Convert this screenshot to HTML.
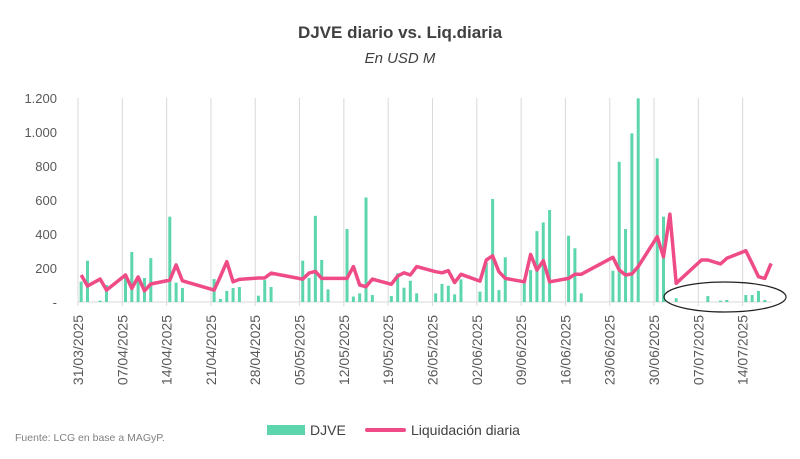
<!DOCTYPE html>
<html><head><meta charset="utf-8"><style>
body{margin:0;background:#fff;font-family:"Liberation Sans",sans-serif;}
#wrap{position:relative;width:800px;height:459px;overflow:hidden;background:#fff;}
</style></head><body>
<div id="wrap">
<svg id="chart" width="800" height="459"></svg>
</div>
<script>
const barDays = [0,1,3,4,7,8,9,10,11,14,15,16,21,22,23,24,25,28,29,30,35,36,37,38,39,42,43,44,45,46,49,50,51,52,53,56,57,58,59,60,63,64,65,66,67,70,71,72,73,74,77,78,79,84,85,86,87,88,91,92,94,99,101,102,105,106,107,108];
const djveValues = [120,243,8,100,159,294,149,141,258,502,114,82,135,18,65,82,88,37,129,88,243,141,507,247,74,429,32,51,615,41,35,169,84,125,51,51,106,96,45,133,61,230,606,70,263,110,188,417,468,541,390,316,51,184,825,429,992,1198,845,502,22,35,8,12,41,41,65,12];
const lineDays = [0,1,3,4,7,8,9,10,11,14,15,16,21,22,23,24,25,28,29,30,35,36,37,38,39,42,43,44,45,46,49,50,51,52,53,56,57,58,59,60,63,64,65,66,67,70,71,72,73,74,77,78,79,84,85,86,87,88,91,92,93,94,98,99,101,102,105,106,107,108,109];
const liqValues = [159,94,135,70,159,80,147,66,106,129,218,125,70,150,237,119,133,141,141,170,135,170,180,139,139,139,208,100,90,135,104,153,172,159,208,178,172,184,114,163,123,247,272,178,139,119,280,188,243,119,139,163,163,263,188,159,165,208,384,266,517,110,247,247,224,257,302,227,149,139,227];
const yTicks = [0,200,400,600,800,1000,1200];
const yTickLabels = ["-","200","400","600","800","1.000","1.200"];
const dateLabels = ["31/03/2025","07/04/2025","14/04/2025","21/04/2025","28/04/2025","05/05/2025","12/05/2025","19/05/2025","26/05/2025","02/06/2025","09/06/2025","16/06/2025","23/06/2025","30/06/2025","07/07/2025","14/07/2025"];

const NS="http://www.w3.org/2000/svg";
const svg=document.getElementById('chart');
const X0=78, DAY=6.33, Y0=302, YTOP=98, YMAX=1200;
const xDay=d=>X0+DAY*(d+0.5);
const xTick=i=>X0+DAY*7*i;
const yv=v=>Y0-(v/YMAX)*(Y0-YTOP);
function mk(tag,attrs,parent){const e=document.createElementNS(NS,tag);for(const k in attrs)e.setAttribute(k,attrs[k]);(parent||svg).appendChild(e);return e;}

// title
let t=mk('text',{x:400,y:38,'text-anchor':'middle','font-size':17,'font-weight':'bold',fill:'#404040'});
t.textContent='DJVE diario vs. Liq.diaria';


t=mk('text',{x:400,y:63,'text-anchor':'middle','font-size':15,'font-style':'italic',fill:'#404040'});
t.textContent='En USD M';



// y labels
yTicks.forEach((v,i)=>{
  const l=mk('text',{x:57,y:yv(v)+5,'text-anchor':'end','font-size':13,fill:'#595959'});
  l.textContent=yTickLabels[i];
  
  
});
// vertical gridlines + x labels
dateLabels.forEach((s,i)=>{
  const x=xTick(i);
  const g=mk('line',{x1:x,x2:x,y1:YTOP,y2:Y0+4,stroke:'#d9d9d9','stroke-width':1});
  
  
  const l=mk('text',{x:0,y:0,'text-anchor':'end','font-size':14,fill:'#595959',transform:`translate(${x+5},${Y0+13}) rotate(-90)`});
  l.textContent=s;
  
  
});
const ax=mk('line',{x1:X0,x2:772,y1:Y0,y2:Y0,stroke:'#d9d9d9','stroke-width':1});



// bars
barDays.forEach((d,i)=>{
  const x=xDay(d), y=yv(djveValues[i]);
  const b=mk('rect',{x:x-1.5,y:y,width:3,height:Y0-y,fill:'#5dd6ad'});
  
  
});
// line
const pts=lineDays.map((d,i)=>xDay(d).toFixed(1)+','+yv(liqValues[i]).toFixed(1)).join(' ');
const pl=mk('polyline',{points:pts,fill:'none',stroke:'#ef4b86','stroke-width':3.5,'stroke-linejoin':'round'});



// ellipse annotation
const el=mk('ellipse',{cx:725,cy:297,rx:61,ry:15,fill:'none',stroke:'#222','stroke-width':1.2});



// legend
const lr=mk('rect',{x:267,y:425,width:38,height:10,fill:'#5dd6ad'});


t=mk('text',{x:310,y:435,'font-size':14,fill:'#404040'});t.textContent='DJVE';


const ll=mk('line',{x1:367,x2:404,y1:430,y2:430,stroke:'#ef4b86','stroke-width':4,'stroke-linecap':'round'});


t=mk('text',{x:411,y:435,'font-size':14,fill:'#404040'});t.textContent='Liquidación diaria';


// source
t=mk('text',{x:15,y:441,'font-size':10.5,fill:'#808080'});t.textContent='Fuente: LCG en base a MAGyP.';


</script>
</body></html>
